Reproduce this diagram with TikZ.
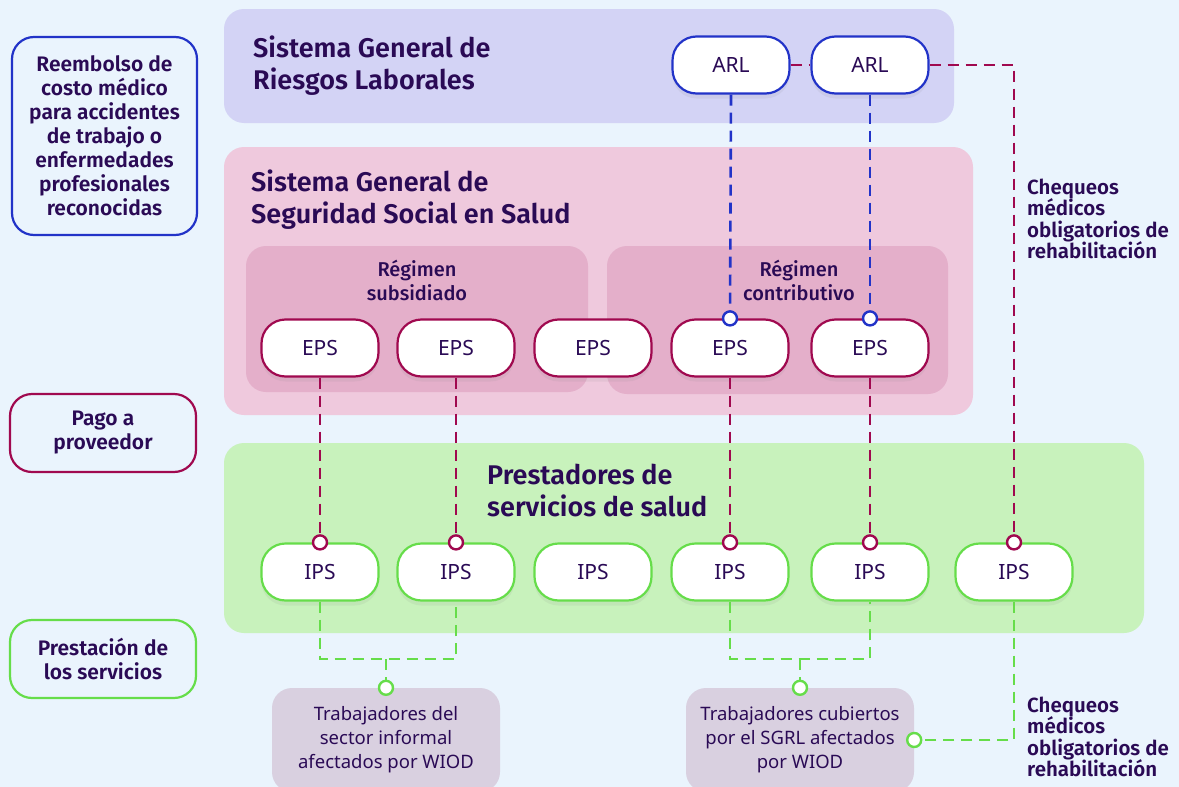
\documentclass[tikz,border=0pt]{standalone}
\usepackage{fontspec}
\setmainfont{Fira Sans}[BoldFont={Fira Sans SemiBold}]
\newfontfamily\medfont{Fira Sans Medium}
\newfontfamily\bodyfont{Noto Sans}
\usetikzlibrary{shadows}
\usetikzlibrary{calc}

\definecolor{bg}{RGB}{234,244,253}
\definecolor{sgrlfill}{RGB}{211,211,245}
\definecolor{sgssfill}{RGB}{239,201,221}
\definecolor{regfill}{RGB}{228,175,202}
\definecolor{prestfill}{RGB}{200,242,188}
\definecolor{workfill}{RGB}{217,208,224}
\definecolor{arlblue}{RGB}{34,51,200}
\definecolor{epsred}{RGB}{160,9,79}
\definecolor{ipsgreen}{RGB}{102,221,74}
\definecolor{ink}{RGB}{42,10,85}

\begin{document}
\begin{tikzpicture}[x=1pt,y=-1pt,
  panel/.style={rounded corners=20pt},
  heading/.style={anchor=north west, align=left, inner sep=0pt, text=ink,
    font=\bfseries\fontsize{27}{32}\selectfont},
  subhead/.style={anchor=north, align=center, inner sep=0pt, text=ink,
    font=\medfont\fontsize{20}{24}\selectfont},
  note/.style={anchor=west, align=left, inner sep=0pt, text=ink,
    font=\bfseries\fontsize{20.5}{21.5}\selectfont},
  legend/.style={draw, line width=2.2pt, rounded corners=22pt, align=center,
    text=ink, font=\bfseries\fontsize{21}{24}\selectfont},
  entity/.style={draw, line width=2.2pt, fill=white, rounded corners=24pt,
    minimum width=117pt, minimum height=57pt, text=ink,
    font=\bodyfont\fontsize{21}{24}\selectfont,
    drop shadow={shadow xshift=0pt, shadow yshift=-5pt, opacity=0.10}},
  work/.style={fill=workfill, rounded corners=20pt, minimum width=228pt,
    minimum height=104pt, align=center, text=ink,
    font=\bodyfont\fontsize{18.5}{24}\selectfont},
  link/.style={line width=2.6pt, dash pattern=on 11pt off 7pt},
  port/.style={circle, draw, fill=white, line width=2.4pt, inner sep=0pt,
    minimum size=14pt}]

  \clip (0,0) rectangle (1179,787);
  \fill[bg] (0,0) rectangle (1179,787);

  % panels
  \fill[panel, sgrlfill] (224,9) rectangle (954,123);
  \fill[panel, sgssfill] (224,147) rectangle (973,415);
  \fill[panel, regfill] (246,246) rectangle (588,392);
  \fill[panel, regfill] (607,246) rectangle (948,394);
  \fill[panel, prestfill] (224,443) rectangle (1144,633);

  \node[heading] (sgrl) at (253,36) {Sistema General de\\Riesgos Laborales};
  \node[heading] (sgss) at (251,170) {Sistema General de\\Seguridad Social en Salud};
  \node[heading] (prest) at (487,464) {Prestadores de\\servicios de salud};
  \node[subhead] (subs) at (417,260) {Régimen\\subsidiado};
  \node[subhead] (contr) at (799,260) {Régimen\\contributivo};

  % legend
  \node[legend, draw=arlblue, minimum width=185pt, minimum height=198pt] (reemb) at (104.5,136)
    {Reembolso de\\costo médico\\para accidentes\\de trabajo o\\enfermedades\\profesionales\\reconocidas};
  \node[legend, draw=epsred, minimum width=186pt, minimum height=78pt] (pago) at (103,433)
    {Pago a\\proveedor};
  \node[legend, draw=ipsgreen, minimum width=186pt, minimum height=78pt] (prestacion) at (103,659)
    {Prestación de\\los servicios};

  % entities
  \node[entity, draw=arlblue] (arl1) at (731,65) {ARL};
  \node[entity, draw=arlblue] (arl2) at (870,65) {ARL};
  \foreach \i/\x in {1/320,2/456,3/593,4/730,5/870}
    \node[entity, draw=epsred] (eps\i) at (\x,348) {EPS};
  \foreach \i/\x in {1/320,2/456,3/593,4/730,5/870,6/1014}
    \node[entity, draw=ipsgreen] (ips\i) at (\x,572) {IPS};

  \node[work] (work1) at (386,740) {Trabajadores del\\sector informal\\afectados por WIOD};
  \node[work] (work2) at (800,740) {Trabajadores cubiertos\\por el SGRL afectados\\por WIOD};

  \node[note] (cheq1) at (1027,219) {Chequeos\\médicos\\obligatorios de\\rehabilitación};
  \node[note] (cheq2) at (1027,737) {Chequeos\\médicos\\obligatorios de\\rehabilitación};

  % connectors
  \coordinate (m1) at (386,659);
  \coordinate (m2) at (800,659);
  \draw[link, epsred] (arl1.east) -- (arl2.west);
  \draw[link, epsred] (arl2.east) -| (ips6.north);
  \draw[link, arlblue] (arl1.south) -- (eps4.north);
  \draw[link, arlblue] (arl2.south) -- (eps5.north);
  \foreach \i in {1,2,4,5}
    \draw[link, epsred] (eps\i.south) -- (ips\i.north);
  \draw[link, ipsgreen] (ips1.south) |- (m1) -| (ips2.south);
  \draw[link, ipsgreen] (m1) -- (work1.north);
  \draw[link, ipsgreen] (ips4.south) |- (m2) -| (ips5.south);
  \draw[link, ipsgreen] (m2) -- (work2.north);
  \draw[link, ipsgreen] (ips6.south) |- (work2.east);

  % ports
  \node[port, draw=arlblue] at (eps4.north) {};
  \node[port, draw=arlblue] at (eps5.north) {};
  \foreach \i in {1,2,4,5,6}
    \node[port, draw=epsred] at (ips\i.north) {};
  \node[port, draw=ipsgreen] at (work1.north) {};
  \node[port, draw=ipsgreen] at (work2.north) {};
  \node[port, draw=ipsgreen] at (work2.east) {};
\end{tikzpicture}
\end{document}
